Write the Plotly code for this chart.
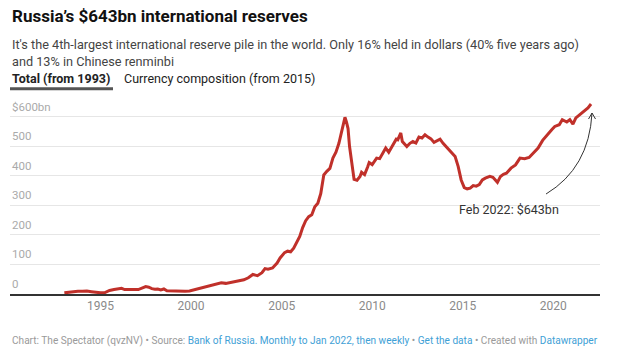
import plotly.graph_objects as go
import datetime as dt

dates = ["1993-01","1993-04","1993-07","1993-10","1994-01","1994-04","1994-07","1994-10",
"1995-01","1995-04","1995-07","1995-10","1996-01","1996-03","1996-05","1996-08","1996-11",
"1997-02","1997-05","1997-07","1997-09","1997-11","1998-01","1998-03","1998-05","1998-07",
"1998-09","1998-12","1999-03","1999-06","1999-09","1999-12","2000-03","2000-06","2000-09",
"2000-12","2001-03","2001-06","2001-09","2001-12","2002-03","2002-06","2002-09","2002-12",
"2003-03","2003-06","2003-09","2003-12","2004-02","2004-04","2004-07","2004-10","2004-12",
"2005-03","2005-05","2005-07","2005-09","2005-11","2006-01","2006-03","2006-05","2006-07",
"2006-09","2006-11","2007-01","2007-03","2007-05","2007-07","2007-09","2007-11","2008-01",
"2008-03","2008-05","2008-07","2008-08","2008-09","2008-10","2008-11","2008-12","2009-01",
"2009-03","2009-05","2009-06","2009-08","2009-10","2009-11","2010-01","2010-03","2010-04",
"2010-06","2010-08","2010-10","2010-12","2011-03","2011-05","2011-06","2011-08","2011-09",
"2011-11","2011-12","2012-02","2012-04","2012-06","2012-08","2012-10","2012-12","2013-02",
"2013-04","2013-06","2013-08","2013-10","2013-12","2014-02","2014-04","2014-06","2014-08",
"2014-10","2014-12","2015-02","2015-04","2015-06","2015-08","2015-10","2015-12","2016-02",
"2016-04","2016-07","2016-09","2016-12","2017-02","2017-04","2017-06","2017-09","2017-12",
"2018-03","2018-06","2018-09","2018-12","2019-03","2019-06","2019-08","2019-12","2020-02",
"2020-05","2020-07","2020-10","2020-12","2021-02","2021-04","2021-08","2021-10","2021-12",
"2022-02"]
reserves = [4,6,8,9,9,10,8,6,
4,5,12,15,17,19,15,16,15,
15,20,25,23,18,16,17,14,17,
11,10,9,8,9,10,14,20,24,
28,32,36,38,36,39,44,45,48,
55,66,62,72,86,84,88,105,122,
140,145,143,155,175,195,225,248,262,
268,295,307,340,403,415,425,460,480,
510,550,598,582,560,500,455,420,388,
385,398,412,404,430,445,438,452,460,
458,478,494,480,505,524,522,545,516,
505,499,510,516,511,531,528,539,531,
525,513,520,524,510,499,488,477,465,
432,386,360,356,358,367,365,370,386,
392,398,395,378,398,405,409,426,437,
460,458,462,477,494,520,533,556,567,
573,590,582,590,575,596,612,621,630,
643]

y_ticks = [100, 200, 300, 400, 500, 600]
y_tick_labels = ["100", "200", "300", "400", "500", "$600bn"]
x_ticks = ["1995-01-01", "2000-01-01", "2005-01-01", "2010-01-01", "2015-01-01", "2020-01-01"]
x_tick_labels = ["1995", "2000", "2005", "2010", "2015", "2020"]

X_RANGE = ["1990-01-01", "2022-08-01"]
Y_RANGE = [0, 660]

FONT = "Roboto, 'Noto Sans', sans-serif"

fig = go.Figure()
fig.add_trace(go.Scatter(x=dates, y=reserves, mode="lines",
                         line=dict(color="#c0302a", width=3), hoverinfo="skip"))

annotations = []
for v, lab in zip([0] + y_ticks, ["0"] + y_tick_labels):
    annotations.append(dict(x=0, xref="paper", y=v, yref="y", text=lab, showarrow=False,
                            xanchor="left", yanchor="bottom", yshift=1,
                            font=dict(size=11.5, color="#aaaaaa", family=FONT)))

annotations += [
    dict(x=0, xref="paper", y=1.425, yref="paper", xanchor="left", yanchor="middle",
         text="<b>Russia’s $643bn international reserves</b>", showarrow=False,
         font=dict(size=17, color="#111111", family=FONT)),
    dict(x=0, xref="paper", y=1.33, yref="paper", xanchor="left", yanchor="top", align="left",
         text="It's the 4th-largest international reserve pile in the world. Only 16% held in dollars (40% five years ago)<br>and 13% in Chinese renminbi",
         showarrow=False, font=dict(size=12.7, color="#444444", family=FONT)),
    dict(x=0, xref="paper", y=1.106, yref="paper", xanchor="left", yanchor="middle",
         text="<b>Total (from 1993)</b>", showarrow=False,
         font=dict(size=12.5, color="#222222", family=FONT)),
    dict(x=0.19, xref="paper", y=1.106, yref="paper", xanchor="left", yanchor="middle",
         text="Currency composition (from 2015)", showarrow=False,
         font=dict(size=12.5, color="#222222", family=FONT)),
    dict(x=0, xref="paper", y=-0.241, yref="paper", xanchor="left", yanchor="middle",
         text=("<span style='color:#9a9a9a'>Chart: The Spectator (qvzNV) • Source: </span>"
               "<span style='color:#3fa1d6'>Bank of Russia. Monthly to Jan 2022, then weekly</span>"
               "<span style='color:#9a9a9a'> • </span><span style='color:#3fa1d6'>Get the data</span>"
               "<span style='color:#9a9a9a'> • Created with </span><span style='color:#3fa1d6'>Datawrapper</span>"),
         showarrow=False, font=dict(size=10.1, family=FONT)),
    dict(x="2017-08-01", xref="x", y=285, yref="y", xanchor="center", yanchor="middle",
         text="Feb 2022: $643bn", showarrow=False,
         font=dict(size=12.5, color="#333333", family=FONT)),
]

def xfrac(d):
    t0 = dt.datetime.fromisoformat(X_RANGE[0]); t1 = dt.datetime.fromisoformat(X_RANGE[1])
    t = dt.datetime.fromisoformat(d + "-01")
    return (t - t0) / (t1 - t0)
def yfrac(v):
    return (v - Y_RANGE[0]) / (Y_RANGE[1] - Y_RANGE[0])

W, H = 590, 195
tip_x = xfrac(dates[-1]) + 1 / W
tip_y = yfrac(reserves[-1]) - 9 / H
tail_x = tip_x - 46 / W
tail_y = tip_y - 81 / H
ctrl_x = tip_x - 3 / W
ctrl_y = tip_y - 55 / H
hx, hy = 3.5 / W, 6 / H

shapes = [
    dict(type="path", xref="paper", yref="paper",
         path=f"M{tail_x},{tail_y} Q{ctrl_x},{ctrl_y} {tip_x},{tip_y}",
         line=dict(color="#333333", width=1)),
    dict(type="path", xref="paper", yref="paper",
         path=f"M{tip_x - hx},{tip_y - hy} L{tip_x},{tip_y} L{tip_x + hx},{tip_y - hy}",
         line=dict(color="#333333", width=1)),
    dict(type="line", xref="paper", yref="paper", x0=0, x1=103 / W, y0=1.052, y1=1.052,
         line=dict(color="#555555", width=3)),
]

fig.update_layout(
    width=620, height=362,
    margin=dict(l=10, r=20, t=99, b=68),
    paper_bgcolor="white", plot_bgcolor="white",
    showlegend=False,
    font=dict(family=FONT),
    annotations=annotations,
    shapes=shapes,
    xaxis=dict(type="date", range=X_RANGE, tickvals=x_ticks, ticktext=x_tick_labels,
               showgrid=False, showline=True, linecolor="#333333", linewidth=1.5,
               ticks="", tickfont=dict(size=12, color="#8a8a8a", family=FONT),
               zeroline=False, fixedrange=True),
    yaxis=dict(range=Y_RANGE, tickvals=y_ticks, showticklabels=False, showgrid=True,
               gridcolor="#e6e6e6", gridwidth=1, zeroline=False, showline=False,
               fixedrange=True),
)

fig.write_html("out.html", post_script="document.body.style.margin='0';",
               config={"displayModeBar": False})
